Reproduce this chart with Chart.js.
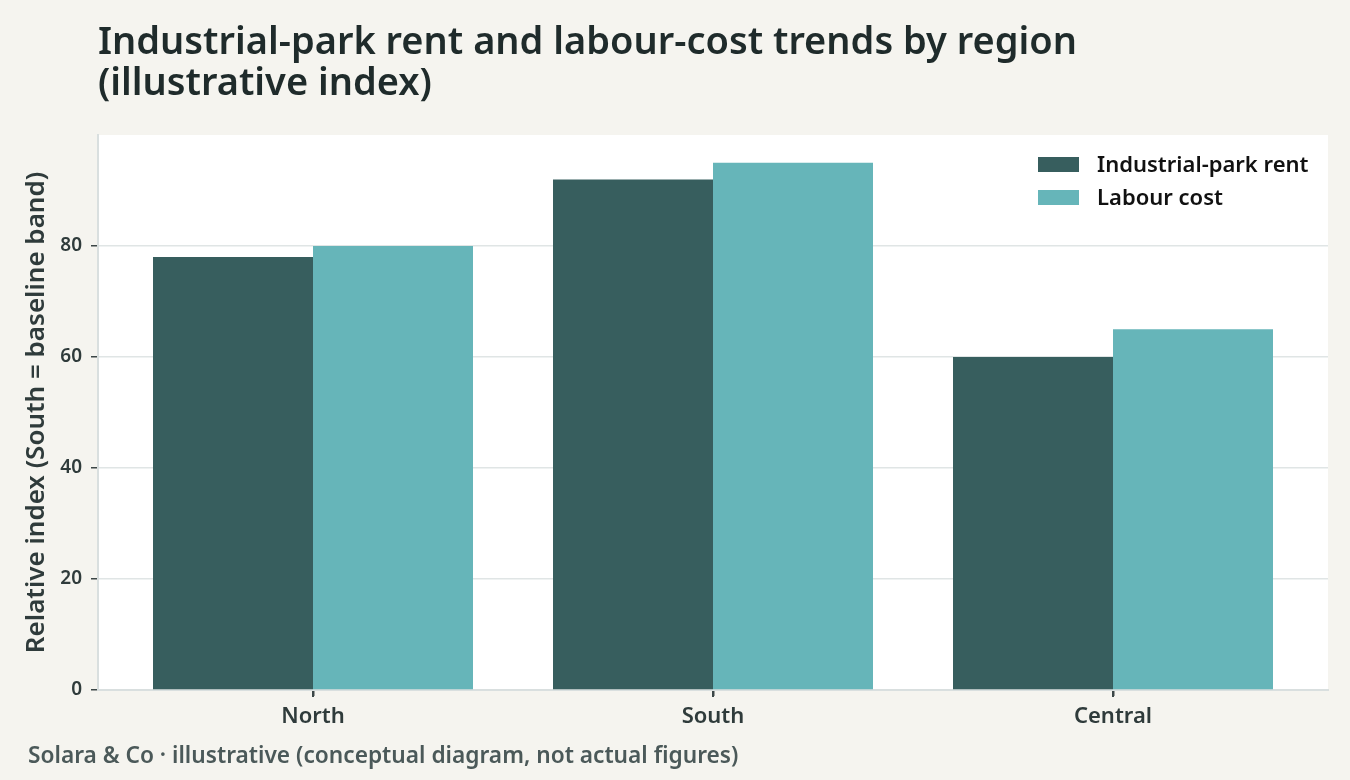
<!DOCTYPE html>
<html><head><meta charset="utf-8">
<script src="https://cdn.jsdelivr.net/npm/chart.js@4.4.1/dist/chart.umd.min.js"></script>
<style>
html,body{margin:0;padding:0;background:#f5f4ef;}
#wrap{position:relative;width:1350px;height:780px;overflow:hidden;}
canvas{position:absolute;left:0;top:0;}
#title{position:absolute;left:98px;top:19px;font:600 38px "Noto Sans";color:#1f2b2b;line-height:41px;white-space:nowrap;}
#cap{position:absolute;left:28px;top:740px;font:600 22.7px "Noto Sans";color:#4b5959;line-height:30px;white-space:nowrap;}
</style></head><body>
<div id="wrap">
<canvas id="c" width="1350" height="780"></canvas>
<div id="title">Industrial-park rent and labour-cost trends by region<br>(illustrative index)</div>
<div id="cap">Solara &amp; Co · illustrative (conceptual diagram, not actual figures)</div>
</div>
<script>
const regions = ['North', 'South', 'Central'];
const rentIndex = [78, 92, 60];
const labourIndex = [80, 95, 65];
const yTickValues = [0, 20, 40, 60, 80];
const seriesNames = ['Industrial-park rent', 'Labour cost'];
const seriesColors = ['#375e5e', '#66b5b9'];

const edgePad = 0.0375;
const ink = '#2f3b3b';
const tickInk = '#3c4747';
const fam = '"Noto Sans"';

const panelBg = {
  id: 'panelBg',
  beforeDraw(chart) {
    const {ctx, chartArea: a} = chart;
    ctx.save();
    ctx.fillStyle = '#ffffff';
    ctx.fillRect(a.left, a.top, a.right - a.left, a.bottom - a.top);
    ctx.restore();
  }
};
const xTickMarks = {
  id: 'xTickMarks',
  afterDraw(chart) {
    const {ctx, scales: {x}} = chart;
    ctx.save();
    ctx.strokeStyle = tickInk;
    ctx.lineWidth = 2;
    x.ticks.forEach(t => {
      const px = Math.round(x.getPixelForValue(t.value));
      ctx.beginPath();
      ctx.moveTo(px, x.top + 1);
      ctx.lineTo(px, x.top + 7);
      ctx.stroke();
    });
    ctx.restore();
  }
};
const insideLegend = {
  id: 'insideLegend',
  afterDatasetsDraw(chart) {
    const {ctx, chartArea: a} = chart;
    ctx.save();
    ctx.font = '600 22px ' + fam;
    ctx.textBaseline = 'middle';
    ctx.textAlign = 'left';
    chart.data.datasets.forEach((ds, i) => {
      const y = a.top + 29.5 + i * 33;
      ctx.fillStyle = ds.backgroundColor;
      ctx.fillRect(a.right - 290, y - 7.5, 41, 15);
      ctx.fillStyle = '#111111';
      ctx.fillText(ds.label, a.right - 231, y + 1);
    });
    ctx.restore();
  }
};

Chart.defaults.font.family = fam;
new Chart(document.getElementById('c'), {
  type: 'bar',
  data: {
    datasets: [
      { label: seriesNames[0], backgroundColor: seriesColors[0], data: regions.map((r, i) => ({x: i, y: rentIndex[i]})) },
      { label: seriesNames[1], backgroundColor: seriesColors[1], data: regions.map((r, i) => ({x: i, y: labourIndex[i]})) }
    ]
  },
  options: {
    responsive: false,
    animation: false,
    devicePixelRatio: 1,
    categoryPercentage: 0.8,
    barPercentage: 1.0,
    layout: { padding: { top: 135, right: 22, bottom: 0, left: 0 } },
    plugins: { legend: { display: false }, title: { display: false }, tooltip: { enabled: false } },
    scales: {
      x: {
        type: 'linear',
        offset: false,
        min: -0.5 - edgePad,
        max: regions.length - 0.5 + edgePad,
        afterBuildTicks: s => { s.ticks = regions.map((r, i) => ({value: i})); },
        afterFit: s => { s.height = 90; },
        border: { color: '#d9dfdf', width: 2 },
        grid: { offset: false, drawOnChartArea: false, color: tickInk, tickColor: tickInk, tickLength: 6, tickWidth: 2 },
        ticks: { color: ink, font: { size: 22, weight: 600 }, padding: 8, callback: v => regions[v] }
      },
      y: {
        min: 0,
        max: 100,
        afterBuildTicks: s => { s.ticks = yTickValues.map(v => ({value: v})); },
        afterFit: s => { s.width = 98; },
        border: { color: '#d9dfdf', width: 2 },
        grid: { color: '#e0e5e5', lineWidth: 1.5, tickColor: tickInk, tickLength: 7, tickWidth: 1.5 },
        ticks: { color: ink, font: { size: 19, weight: 600 }, padding: 9 },
        title: { display: true, text: 'Relative index (South = baseline band)', color: ink, font: { size: 26, weight: 600 }, padding: { top: 21, bottom: 0 } }
      }
    }
  },
  plugins: [panelBg, insideLegend, xTickMarks]
});
</script>
</body></html>
